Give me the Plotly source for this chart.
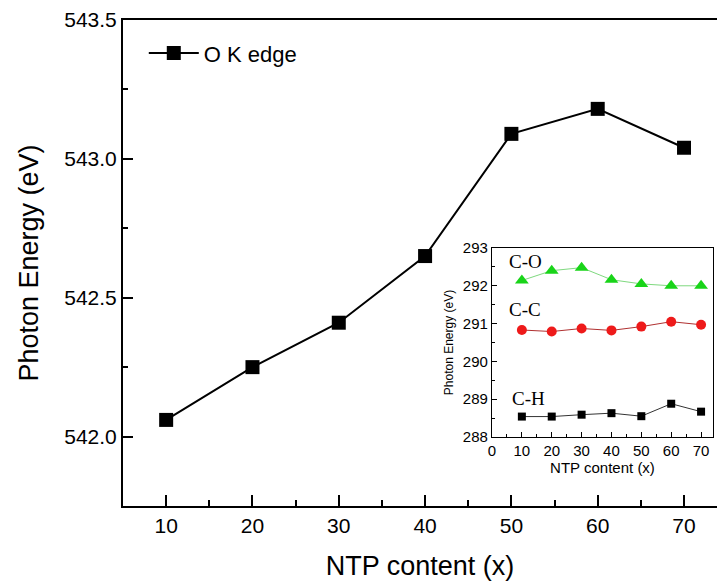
import plotly.graph_objects as go

ntp = [10, 20, 30, 40, 50, 60, 70]
o_k_edge = [542.06, 542.25, 542.41, 542.65, 543.09, 543.18, 543.04]

c_o = [292.14, 292.40, 292.48, 292.16, 292.05, 292.00, 292.00]
c_c = [290.83, 290.79, 290.87, 290.82, 290.92, 291.05, 290.97]
c_h = [288.54, 288.54, 288.59, 288.63, 288.55, 288.88, 288.67]

FONT = "Arial, Liberation Sans, sans-serif"
SERIF = "Liberation Serif, Times New Roman, serif"

fig = go.Figure()
fig.add_trace(go.Scatter(x=ntp, y=o_k_edge, mode="lines+markers", name="O K edge",
                         line=dict(color="black", width=2),
                         marker=dict(symbol="square", size=14, color="black")))

fig.add_trace(go.Scatter(x=ntp, y=c_o, mode="lines+markers", showlegend=False,
                         xaxis="x2", yaxis="y2",
                         line=dict(color="#7fd97f", width=1),
                         marker=dict(symbol="triangle-up", size=12, color="#19d419")))
fig.add_trace(go.Scatter(x=ntp, y=c_c, mode="lines+markers", showlegend=False,
                         xaxis="x2", yaxis="y2",
                         line=dict(color="#b03030", width=1),
                         marker=dict(symbol="circle", size=10, color="#ee1a1a")))
fig.add_trace(go.Scatter(x=ntp, y=c_h, mode="lines+markers", showlegend=False,
                         xaxis="x2", yaxis="y2",
                         line=dict(color="#333333", width=1),
                         marker=dict(symbol="square", size=8, color="black")))

axis_common = dict(showgrid=False, zeroline=False, showline=True, linecolor="black",
                   ticks="inside", tickcolor="black")

fig.update_layout(
    width=717, height=584,
    margin=dict(l=123, r=0, t=20, b=78),
    plot_bgcolor="white", paper_bgcolor="white",
    font=dict(family=FONT, color="black"),
    showlegend=True,
    legend=dict(x=0.035, y=0.975, xanchor="left", yanchor="top",
                font=dict(size=22, family=FONT), bgcolor="rgba(0,0,0,0)",
                itemwidth=50),
    xaxis=dict(**axis_common, range=[5, 73.82], linewidth=2, mirror=True,
               tickmode="array", tickvals=[10, 20, 30, 40, 50, 60, 70],
               ticklen=11, tickwidth=2, tickfont=dict(size=21),
               minor=dict(ticks="inside", ticklen=6, tickwidth=2, tickcolor="black",
                          tickmode="array", tickvals=[15, 25, 35, 45, 55, 65]),
               title=dict(text="NTP content (x)", font=dict(size=27), standoff=20)),
    yaxis=dict(**axis_common, range=[541.75, 543.5], linewidth=2, mirror=False,
               tickmode="array", tickvals=[542.0, 542.5, 543.0, 543.5],
               ticktext=["542.0", "542.5", "543.0", "543.5"],
               ticklen=10, tickwidth=2, tickfont=dict(size=21),
               minor=dict(ticks="inside", ticklen=5, tickwidth=2, tickcolor="black",
                          tickmode="array", tickvals=[541.75, 542.25, 542.75, 543.25]),
               title=dict(text="Photon Energy (eV)", font=dict(size=27), standoff=18)),
    xaxis2=dict(**axis_common, domain=[0.6212, 0.9933], anchor="y2", range=[0, 74],
                linewidth=1.2, mirror=True,
                tickmode="array", tickvals=[0, 10, 20, 30, 40, 50, 60, 70],
                ticklen=5, tickwidth=1, tickfont=dict(size=15),
                minor=dict(ticks="inside", ticklen=3, tickwidth=1, tickcolor="black",
                           tickmode="array", tickvals=[5, 15, 25, 35, 45, 55, 65]),
                title=dict(text="NTP content (x)", font=dict(size=15), standoff=4)),
    yaxis2=dict(**axis_common, domain=[0.142, 0.5309], anchor="x2", range=[288, 293],
                linewidth=1.2, mirror=True,
                tickmode="array", tickvals=[288, 289, 290, 291, 292, 293],
                ticklen=5, tickwidth=1, tickfont=dict(size=15),
                minor=dict(ticks="inside", ticklen=3, tickwidth=1, tickcolor="black",
                           tickmode="array", tickvals=[288.5, 289.5, 290.5, 291.5, 292.5]),
                title=dict(text="Photon Energy (eV)", font=dict(size=12), standoff=6)),
    shapes=[dict(type="rect", xref="x2 domain", yref="y2 domain", x0=0, x1=1, y0=0, y1=1,
                 fillcolor="white", line=dict(width=0), layer="below")],
    annotations=[
        dict(text="C-O", x=5, y=292.63, xref="x2", yref="y2", xanchor="left",
             showarrow=False, font=dict(family=SERIF, size=19)),
        dict(text="C-C", x=5, y=291.36, xref="x2", yref="y2", xanchor="left",
             showarrow=False, font=dict(family=SERIF, size=19)),
        dict(text="C-H", x=6, y=289.03, xref="x2", yref="y2", xanchor="left",
             showarrow=False, font=dict(family=SERIF, size=19)),
    ],
)

fig.write_html("out.html")
